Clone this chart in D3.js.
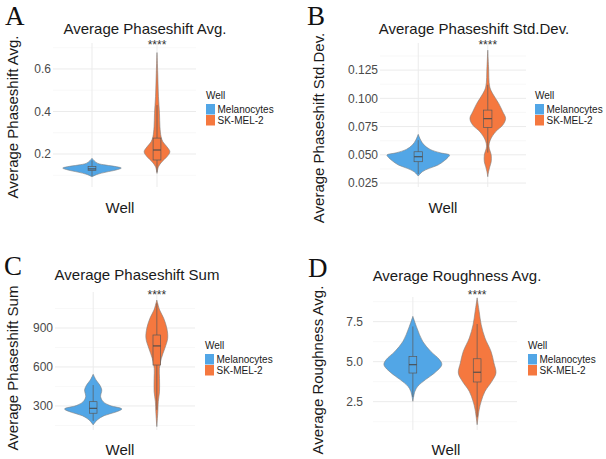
<!DOCTYPE html>
<html>
<head>
<meta charset="utf-8">
<script src="https://cdn.jsdelivr.net/npm/d3@7"></script>
<style>
  body { margin: 0; background: #fff; }
  text { font-family: "Liberation Sans", Arial, sans-serif; }
</style>
</head>
<body>
<svg id="fig" width="606" height="459"></svg>
<script>
// ---- data ----
const wells = ["Melanocytes", "SK-MEL-2"];
const wellColors = ["#52a6e6", "#f5783f"];
const panelLetters = ["A", "B", "C", "D"];
const panelTitles = ["Average Phaseshift Avg.", "Average Phaseshift Std.Dev.", "Average Phaseshift Sum", "Average Roughness Avg."];
const signif = ["****", "****", "****", "****"];

const ticksA = [0.2, 0.4, 0.6];
const ticksB = [0.025, 0.05, 0.075, 0.1, 0.125];
const ticksC = [300, 600, 900];
const ticksD = [2.5, 5.0, 7.5];
const minorA = [0.1, 0.3, 0.5, 0.7];
const minorB = [0.0375, 0.0625, 0.0875, 0.1125, 0.1375];
const minorC = [150, 450, 750, 1050];
const minorD = [1.25, 3.75, 6.25, 8.75];

// violin outlines: [value, relative density]
const violinA_mel = [[0.093, 0], [0.104, 0.17], [0.115, 0.48], [0.125, 0.82], [0.134, 1.0], [0.140, 0.85], [0.148, 0.48], [0.156, 0.2], [0.169, 0.07], [0.180, 0]];
const violinA_sk = [[0.109, 0], [0.140, 0.05], [0.164, 0.17], [0.187, 0.34], [0.211, 0.44], [0.234, 0.34], [0.258, 0.2], [0.281, 0.14], [0.328, 0.1], [0.391, 0.085], [0.470, 0.05], [0.580, 0.025], [0.677, 0]];
const violinB_mel = [[0.0312, 0], [0.0350, 0.13], [0.0380, 0.35], [0.0409, 0.63], [0.0447, 0.83], [0.0477, 0.95], [0.0498, 1.0], [0.0518, 0.7], [0.0548, 0.38], [0.0586, 0.19], [0.0630, 0.08], [0.0681, 0]];
const violinB_sk = [[0.0306, 0], [0.0350, 0.025], [0.0394, 0.065], [0.0439, 0.11], [0.0498, 0.11], [0.0571, 0.04], [0.0630, 0.08], [0.0704, 0.25], [0.0763, 0.48], [0.0822, 0.57], [0.0881, 0.48], [0.0955, 0.35], [0.104, 0.16], [0.110, 0.065], [0.128, 0.025], [0.1427, 0]];
const violinC_mel = [[154, 0], [192, 0.14], [225, 0.38], [251, 0.76], [277, 1.0], [303, 0.59], [333, 0.35], [372, 0.26], [423, 0.3], [461, 0.23], [500, 0.1], [544, 0]];
const violinC_sk = [[141, 0], [256, 0.035], [333, 0.05], [410, 0.094], [513, 0.094], [590, 0.09], [667, 0.16], [744, 0.28], [821, 0.38], [898, 0.35], [975, 0.24], [1038, 0.1], [1115, 0]];
const violinD_mel = [[2.52, 0], [3.14, 0.07], [3.46, 0.17], [3.88, 0.44], [4.29, 0.75], [4.81, 1.0], [5.13, 0.92], [5.64, 0.62], [6.27, 0.34], [7.11, 0.14], [7.83, 0]];
const violinD_sk = [[1.06, 0], [2.0, 0.07], [2.52, 0.14], [3.14, 0.27], [3.77, 0.51], [4.29, 0.65], [4.92, 0.58], [5.64, 0.48], [6.48, 0.27], [7.31, 0.14], [8.14, 0.07], [8.98, 0]];

// box stats: [lower whisker, q1, median, q3, upper whisker]
const boxA_mel = [0.096, 0.122, 0.130, 0.142, 0.170];
const boxA_sk = [0.115, 0.172, 0.219, 0.275, 0.43];
const boxB_mel = [0.033, 0.0439, 0.0483, 0.0527, 0.063];
const boxB_sk = [0.052, 0.0743, 0.082, 0.0896, 0.112];
const boxC_mel = [185, 244, 282, 333, 461];
const boxC_sk = [270, 615, 762, 846, 1090];
const boxD_mel = [2.8, 4.29, 4.81, 5.33, 7.2];
const boxD_sk = [1.55, 3.73, 4.34, 5.18, 7.35];

// ---- layout ----
const panels = [
  { violins: [violinA_mel, violinA_sk], boxes: [boxA_mel, boxA_sk], ticks: ticksA, minor: minorA, fmt: d3.format(".1f"),
    domain: [0.045, 0.722], left: 53, right: 196, pad: 0.6, top: 43, bottom: 187, tickPad: 2,
    titleX: 145, titleY: 34, letterX: 5, letterY: 25, yTitleX: 18, yTitleY: 117, wellX: 120, wellY: 213,
    legX: 206, legY: 99, starY: 49 },
  { violins: [violinB_mel, violinB_sk], boxes: [boxB_mel, boxB_sk], ticks: ticksB, minor: minorB, fmt: d3.format(".3f"),
    domain: [0.0215, 0.149], left: 380, right: 526, pad: 0.55, top: 43, bottom: 187, tickPad: 2,
    titleX: 474, titleY: 34, letterX: 307, letterY: 25, yTitleX: 324, yTitleY: 128, wellX: 443, wellY: 213,
    legX: 535, legY: 99, starY: 49 },
  { violins: [violinC_mel, violinC_sk], boxes: [boxC_mel, boxC_sk], ticks: ticksC, minor: minorC, fmt: d3.format("d"),
    domain: [115, 1177], left: 55, right: 195, pad: 0.6, top: 292, bottom: 430, tickPad: 2,
    titleX: 137, titleY: 280, letterX: 4, letterY: 275, yTitleX: 18, yTitleY: 368, wellX: 120, wellY: 455,
    legX: 205, legY: 349, starY: 299 },
  { violins: [violinD_mel, violinD_sk], boxes: [boxD_mel, boxD_sk], ticks: ticksD, minor: minorD, fmt: d3.format(".1f"),
    domain: [0.73, 9.04], left: 373, right: 517, pad: 0.62, top: 297, bottom: 430, tickPad: 10,
    titleX: 457, titleY: 281, letterX: 308, letterY: 277, yTitleX: 323, yTitleY: 370, wellX: 446, wellY: 455,
    legX: 528, legY: 349, starY: 299 }
];

const svg = d3.select("#fig");
const keyStep = 11;

panels.forEach(function (p, i) {
  const g = svg.append("g");

  const x = d3.scalePoint().domain(wells).range([p.left, p.right]).padding(p.pad);
  const y = d3.scaleLinear().domain(p.domain).range([p.bottom, p.top]);
  const w = d3.scaleLinear().domain([0, 1]).range([0, x.step() * 0.45]);

  // grid
  g.selectAll(".minor").data(p.minor.filter(v => v > p.domain[0] && v < p.domain[1]))
    .join("line")
    .attr("x1", p.left).attr("x2", p.right)
    .attr("y1", d => y(d)).attr("y2", d => y(d))
    .style("stroke", "#f3f3f3").style("stroke-width", 0.6);
  g.selectAll(".major").data(p.ticks)
    .join("line")
    .attr("x1", p.left).attr("x2", p.right)
    .attr("y1", d => y(d)).attr("y2", d => y(d))
    .style("stroke", "#ebebeb").style("stroke-width", 1);
  g.selectAll(".vgrid").data(wells)
    .join("line")
    .attr("x1", d => x(d)).attr("x2", d => x(d))
    .attr("y1", p.top).attr("y2", p.bottom)
    .style("stroke", "#ebebeb").style("stroke-width", 1);

  // y axis labels
  const axis = g.append("g")
    .attr("transform", "translate(" + p.left + ",0)")
    .call(d3.axisLeft(y).tickValues(p.ticks).tickSize(0).tickPadding(p.tickPad).tickFormat(p.fmt));
  axis.select(".domain").remove();
  axis.selectAll("text").style("font-size", "12px").style("fill", "#4a4a4a")
    .style("font-family", "'Liberation Sans', Arial, sans-serif");

  // violins + boxes
  wells.forEach(function (well, k) {
    const cx = x(well);
    const area = d3.area()
      .curve(d3.curveCatmullRom.alpha(0.5))
      .y(d => y(d[0]))
      .x0(d => cx - w(d[1]))
      .x1(d => cx + w(d[1]));
    g.append("path")
      .datum(p.violins[k])
      .attr("d", area)
      .style("fill", wellColors[k])
      .style("stroke", "#7d7d7d")
      .style("stroke-width", 0.6);

    const b = p.boxes[k];
    const bw = x.step() * 0.12;
    g.append("line")
      .attr("x1", cx).attr("x2", cx)
      .attr("y1", y(b[0])).attr("y2", y(b[4]))
      .style("stroke", "#5a5a5a").style("stroke-width", 0.7);
    g.append("rect")
      .attr("x", cx - bw / 2).attr("width", bw)
      .attr("y", y(b[3])).attr("height", y(b[1]) - y(b[3]))
      .style("fill", wellColors[k])
      .style("stroke", "#5a5a5a").style("stroke-width", 0.7);
    g.append("line")
      .attr("x1", cx - bw / 2).attr("x2", cx + bw / 2)
      .attr("y1", y(b[2])).attr("y2", y(b[2]))
      .style("stroke", "#4a4a4a").style("stroke-width", 1.1);
  });

  // significance stars
  g.append("text")
    .attr("x", x(wells[1])).attr("y", p.starY)
    .attr("text-anchor", "middle")
    .style("font-size", "12px").style("fill", "#333")
    .text(signif[i]);

  // titles
  g.append("text")
    .attr("x", p.titleX).attr("y", p.titleY)
    .attr("text-anchor", "middle")
    .style("font-size", "15px").style("fill", "#1a1a1a")
    .text(panelTitles[i]);

  g.append("text")
    .attr("x", p.letterX).attr("y", p.letterY)
    .style("font-family", "'Liberation Serif', 'Times New Roman', serif")
    .style("font-size", "27px").style("fill", "#111")
    .text(panelLetters[i]);

  g.append("text")
    .attr("transform", "translate(" + p.yTitleX + "," + p.yTitleY + ") rotate(-90)")
    .attr("text-anchor", "middle")
    .style("font-size", "15px").style("fill", "#1a1a1a")
    .text(panelTitles[i]);

  g.append("text")
    .attr("x", p.wellX).attr("y", p.wellY)
    .attr("text-anchor", "middle")
    .style("font-size", "15px").style("fill", "#1a1a1a")
    .text("Well");

  // legend
  const leg = g.append("g").attr("transform", "translate(" + p.legX + "," + p.legY + ")");
  leg.append("text").attr("x", 0).attr("y", 0)
    .style("font-size", "10px").style("fill", "#1a1a1a").text("Well");
  wells.forEach(function (well, k) {
    leg.append("rect")
      .attr("x", 0).attr("y", 5 + k * keyStep)
      .attr("width", 9).attr("height", keyStep - 0.5)
      .style("fill", wellColors[k]);
    leg.append("text")
      .attr("x", 11.5).attr("y", 5 + (k + 1) * keyStep - 2)
      .style("font-size", "10px").style("fill", "#1a1a1a")
      .text(well);
  });
});
</script>
</body>
</html>
